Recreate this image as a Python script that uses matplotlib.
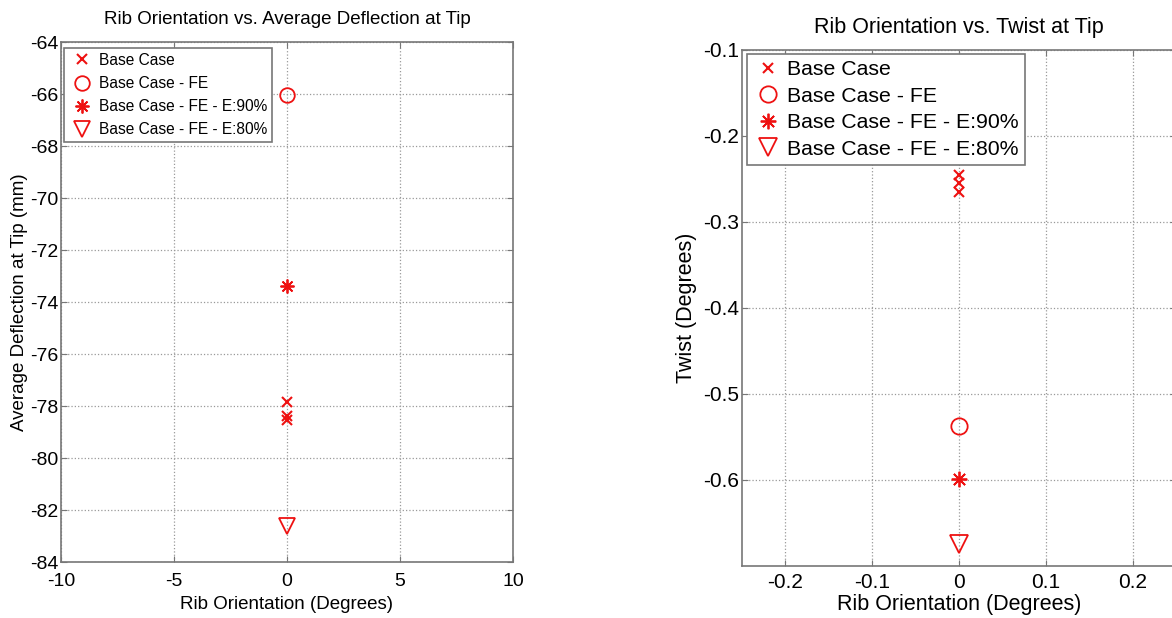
import numpy as np
import matplotlib.pyplot as plt

plt.rcParams['font.family'] = ['Liberation Sans', 'DejaVu Sans']
plt.rcParams['axes.unicode_minus'] = False

series_labels = ['Base Case', 'Base Case - FE', 'Base Case - FE - E:90%', 'Base Case - FE - E:80%']

# rib orientation (deg) for every run
orient_base = [0, 0, 0]
orient_fe = [0]
orient_e90 = [0]
orient_e80 = [0]

# average deflection at tip (mm)
defl_base = [-77.85, -78.4, -78.55]
defl_fe = [-66.05]
defl_e90 = [-73.4]
defl_e80 = [-82.6]

# twist at tip (deg)
twist_base = [-0.246, -0.255, -0.265]
twist_fe = [-0.538]
twist_e90 = [-0.599]
twist_e80 = [-0.675]

red = '#ee1111'


def marker_styles(k):
    return [
        dict(marker='x', ms=7 * k, mew=1.5),
        dict(marker='o', ms=10.5 * k, mew=1.3, mfc='none'),
        dict(marker=(8, 2, 0), ms=10 * k, mew=1.3),
        dict(marker='v', ms=11 * k, mew=1.3, mfc='none'),
    ]


def style_axes(ax, fs):
    for s in ax.spines.values():
        s.set_color('#777777')
        s.set_linewidth(1.2)
    ax.grid(True, linestyle=':', color='#999999', linewidth=0.9)
    ax.tick_params(direction='in', top=True, right=True, length=4,
                   color='#777777', labelsize=fs, pad=2)


fig = plt.figure(figsize=(11.72, 6.18), dpi=100)

# left panel
ax1 = fig.add_axes([0.0520, 0.0906, 0.3857, 0.8414])
xs = [orient_base, orient_fe, orient_e90, orient_e80]
ys = [defl_base, defl_fe, defl_e90, defl_e80]
for x, y, st, lab in zip(xs, ys, marker_styles(1.0), series_labels):
    ax1.plot(x, y, linestyle='none', color=red, mec=red, label=lab, **st)
ax1.set_xlim(-10, 10)
ax1.set_ylim(-84, -64)
ax1.set_xticks([-10, -5, 0, 5, 10])
ax1.set_yticks(np.arange(-84, -63, 2))
style_axes(ax1, 14)
ax1.tick_params(axis='x', pad=8)
ax1.set_xlabel('Rib Orientation (Degrees)', fontsize=13.5, labelpad=4)
ax1.set_ylabel('Average Deflection at Tip (mm)', fontsize=13.5, labelpad=1)
ax1.set_title('Rib Orientation vs. Average Deflection at Tip', fontsize=13.5, pad=13)
leg1 = ax1.legend(loc='upper left', bbox_to_anchor=(0.006, 0.988), fontsize=11.2,
                  frameon=True, fancybox=False, framealpha=1, edgecolor='#777777',
                  handlelength=1.8, handletextpad=0.2, labelspacing=0.52,
                  borderpad=0.3, borderaxespad=0)
leg1.get_frame().set_linewidth(1.2)

# right panel (cut off at the right edge like the reference)
ax2 = fig.add_axes([0.6329, 0.0846, 0.3706, 0.8345])
ys2 = [twist_base, twist_fe, twist_e90, twist_e80]
for x, y, st, lab in zip(xs, ys2, marker_styles(1.12), series_labels):
    ax2.plot(x, y, linestyle='none', color=red, mec=red, label=lab, **st)
ax2.set_xlim(-0.25, 0.25)
ax2.set_ylim(-0.7, -0.1)
ax2.set_xticks([-0.2, -0.1, 0, 0.1, 0.2])
ax2.set_xticklabels(['-0.2', '-0.1', '0', '0.1', '0.2'])
ax2.set_yticks([-0.6, -0.5, -0.4, -0.3, -0.2, -0.1])
ax2.set_yticklabels(['-0.6', '-0.5', '-0.4', '-0.3', '-0.2', '-0.1'])
style_axes(ax2, 15)
ax2.tick_params(axis='x', pad=5)
ax2.set_xlabel('Rib Orientation (Degrees)', fontsize=15.5, labelpad=2)
ax2.set_ylabel('Twist (Degrees)', fontsize=15.5, labelpad=4)
ax2.set_title('Rib Orientation vs. Twist at Tip', fontsize=15.5, pad=12)
leg2 = ax2.legend(loc='upper left', bbox_to_anchor=(0.012, 0.992), fontsize=15.3,
                  frameon=True, fancybox=False, framealpha=1, edgecolor='#777777',
                  handlelength=1.4, handletextpad=0.2, labelspacing=0.35,
                  borderpad=0.3, borderaxespad=0)
leg2.get_frame().set_linewidth(1.2)

fig.savefig('out.png', dpi=100)
